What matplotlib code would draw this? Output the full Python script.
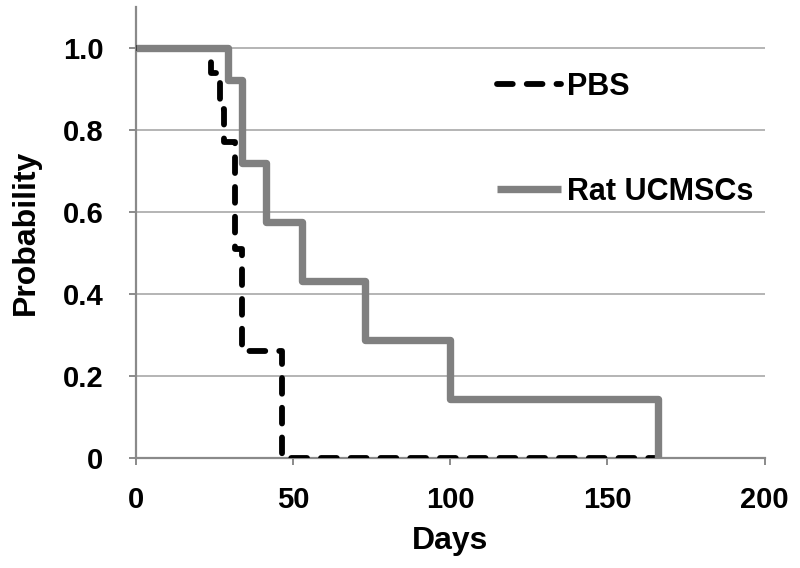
import matplotlib
matplotlib.use("Agg")
import matplotlib.pyplot as plt

# Data
pbs_days = [0, 24, 27, 28, 31.5, 34, 46.5, 166]
pbs_prob = [1.0, 0.94, 0.85, 0.77, 0.51, 0.26, 0.0, 0.0]

rat_days = [0, 29.5, 34, 41.5, 53, 73, 100, 166]
rat_prob = [1.0, 0.923, 0.72, 0.576, 0.432, 0.288, 0.144, 0.0]

series_labels = ["PBS", "Rat UCMSCs"]
x_ticks = [0, 50, 100, 150, 200]
y_ticks = [0, 0.2, 0.4, 0.6, 0.8, 1.0]
y_tick_labels = ["0", "0.2", "0.4", "0.6", "0.8", "1.0"]

plt.rcParams['font.family'] = ['Liberation Sans', 'DejaVu Sans']
plt.rcParams['font.weight'] = 'bold'

fig = plt.figure(figsize=(8, 5.68), dpi=100)
ax = fig.add_axes([0.1694, 0.1937, 0.956 - 0.1694, 0.9877 - 0.1937])

ax.plot(pbs_days, pbs_prob, drawstyle='steps-post', color='black', lw=4.2,
        dashes=(2.7, 2.4), dash_capstyle='round', dash_joinstyle='round',
        label=series_labels[0], zorder=3)
ax.plot(rat_days, rat_prob, drawstyle='steps-post', color='#808080', lw=5.3,
        solid_joinstyle='round', solid_capstyle='butt',
        label=series_labels[1], zorder=4)

ax.set_xlim(0, 200)
ax.set_ylim(0, 1.1)
ax.set_xticks(x_ticks)
ax.set_xticklabels([str(v) for v in x_ticks])
ax.set_yticks(y_ticks)
ax.set_yticklabels(y_tick_labels)

ax.yaxis.grid(True, color='#a0a0a0', lw=1.1)
ax.set_axisbelow(True)
for s in ['top', 'right']:
    ax.spines[s].set_visible(False)
for s in ['left', 'bottom']:
    ax.spines[s].set_color('#8a8a8a')
    ax.spines[s].set_linewidth(1.6)

ax.tick_params(axis='both', direction='out', color='#8a8a8a', width=1.4,
               length=5, labelsize=21)
ax.tick_params(axis='x', pad=15)
ax.tick_params(axis='y', pad=18)

ax.set_xlabel("Days", fontsize=23, fontweight='bold', labelpad=9)
ax.set_ylabel("Probability", fontsize=23, fontweight='bold', labelpad=16)

leg = ax.legend(loc='upper left', bbox_to_anchor=(497 / 800, 1 - 72 / 568),
                bbox_transform=fig.transFigure, frameon=False, fontsize=22,
                handlelength=2.1, handletextpad=0.2, labelspacing=2.45,
                borderpad=0, borderaxespad=0)

fig.savefig("out.png", dpi=100)
